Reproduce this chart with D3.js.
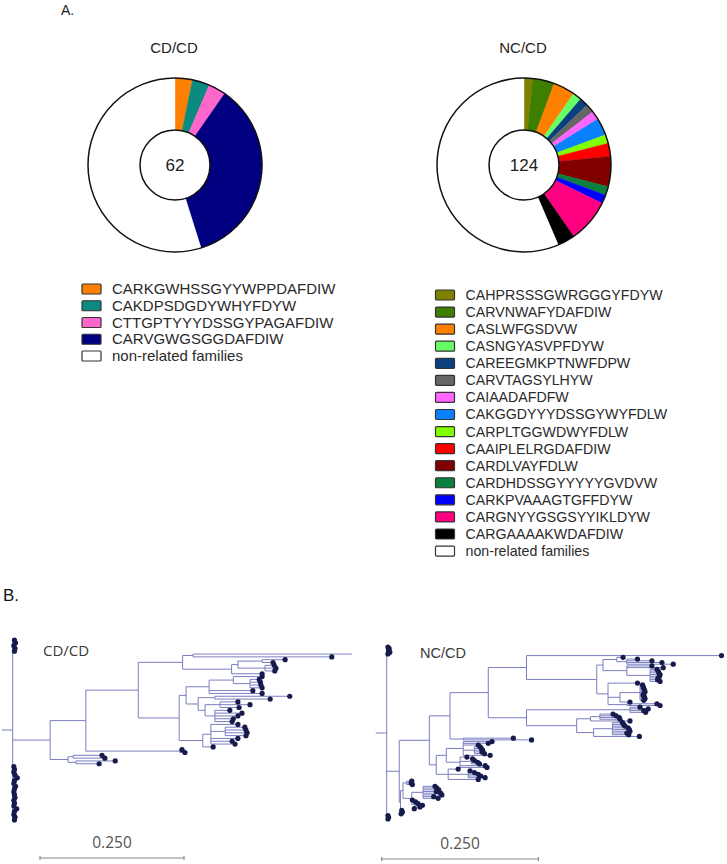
<!DOCTYPE html>
<html><head><meta charset="utf-8">
<script src="https://cdn.jsdelivr.net/npm/d3@7"></script>
<style>body{margin:0;background:#fff} svg{display:block}</style>
</head><body>
<svg id="c" width="727" height="864"></svg>
<script>
// ---------- Panel A data ----------
const cdLabels = ["CARKGWHSSGYYWPPDAFDIW","CAKDPSDGDYWHYFDYW","CTTGPTYYYDSSGYPAGAFDIW","CARVGWGSGGDAFDIW","non-related families"];
const cdValues = [2, 2, 2, 22, 34];
const cdColors = ["#ff7f00","#0b8a80","#ff66cc","#000080","#ffffff"];
const cdTotal = "62";

const ncLabels = ["CAHPRSSSGWRGGGYFDYW","CARVNWAFYDAFDIW","CASLWFGSDVW","CASNGYASVPFDYW","CAREEGMKPTNWFDPW","CARVTAGSYLHYW","CAIAADAFDFW","CAKGGDYYYDSSGYWYFDLW","CARPLTGGWDWYFDLW","CAAIPLELRGDAFDIW","CARDLVAYFDLW","CARDHDSSGYYYYYGVDVW","CARKPVAAAGTGFFDYW","CARGNYYGSGSYYIKLDYW","CARGAAAAKWDAFDIW","non-related families"];
const ncValues = [2, 5, 5, 2, 2, 2, 2, 4, 2, 3, 7, 2, 2, 10, 4, 70];
const ncColors = ["#808000","#3f7f00","#ff8000","#66ff66","#0a3f80","#666666","#ff66ff","#0a80ff","#80ff00","#ff0000","#800000","#0a7f40","#0000ff","#ff0080","#000000","#ffffff"];
const ncTotal = "124";

// ---------- Panel B data (node = [distance from root, children], leaf = distance) ----------
const treeCD = [0, [
  0.003, 0.005, 0.002, 0.004, 0.003,
  [0.065, [
    [0.127, [
      [0.218, [
        [0.295, [
          [0.313, [0.596, 0.554]],
          [0.380, [
            [0.391, [
              [0.433, [0.473, 0.452]],
              [0.438, [0.454, 0.457, 0.455]]
            ]],
            0.433
          ]]
        ]],
        [0.289, [
          [0.301, [
            [0.341, [
              [0.383, [0.433, [0.412, [0.428, 0.430, 0.431, 0.433]]]],
              0.417,
              0.433
            ]],
            [0.322, [
              [0.351, [0.481, 0.447]],
              [0.334, [
                [0.360, [0.391, 0.412, 0.393]],
                [0.351, [0.377, 0.398, 0.391, 0.383, 0.381]]
              ]]
            ]]
          ]],
          [0.330, [
            [0.344, [0.391, [0.369, [0.403, 0.405, 0.407, 0.405]], 0.391, 0.381, 0.386]],
            0.348
          ]]
        ]]
      ]],
      [0.290, [0.294, 0.299]]
    ]],
    [0.096, [
      [0.105, [0.155, 0.160]],
      [0.110, [0.178, 0.150]]
    ]]
  ]],
  0.002, 0.003, 0.002, 0.004, 0.008, 0.003, 0.002, 0.005, 0.003, 0.002,
  0.003, 0.004, 0.002, 0.003, 0.002, 0.007, 0.003, 0.002, 0.004, 0.003
]];

const treeNC = [0, [
  0.002, 0.004, 0.003, 0.005, 0.002,
  [0.020, [
    [0.068, [
      [0.101, [
        [0.162, [
          [0.223, [
            0.534,
            [0.335, [
              [0.345, [
                [0.367, [0.377, [0.383, [0.400, 0.423, 0.439, 0.457]]]],
                [0.383, [0.423, 0.441, [0.420, [0.431, 0.433, 0.434, 0.436, 0.435, 0.433, 0.432, 0.436]]]]
              ]],
              [0.353, [
                0.400,
                [0.372, [[0.404, [0.408, 0.409, 0.410, 0.411, 0.412, 0.410, 0.409, 0.411, 0.412, 0.410]], 0.388]],
                [0.383, [0.431, 0.436]]
              ]]
            ]]
          ]],
          [0.223, [
            [0.388, [0.404, 0.417, 0.410, 0.413]],
            [0.303, [
              [0.325, [[0.340, [0.361, 0.366, 0.371, 0.372]], 0.388]],
              [0.330, [[0.360, [0.376, 0.378, 0.380, 0.385, 0.387, 0.388, 0.383, 0.386]], 0.403]]
            ]]
          ]]
        ]],
        [0.122, [0.202, 0.231]]
      ]],
      [0.079, [
        [0.095, [
          [0.122, [0.168, 0.162, 0.146, [0.140, [0.149, 0.151, 0.153, 0.152, 0.156]], 0.165]],
          [0.117, [0.128, [0.135, [0.137, 0.140, 0.145, 0.148]], 0.157, 0.160]]
        ]],
        [0.098, [0.114, [0.130, [0.133, 0.140, 0.146, 0.150, 0.157]], 0.146]]
      ]]
    ]],
    [0.022, [
      [0.026, [
        [0.032, [0.040, 0.039, 0.041]],
        [0.040, [
          [0.058, [0.077, 0.080, 0.083, 0.079, 0.086, 0.088, 0.075, 0.082]],
          [0.045, [0.041, 0.046, 0.050, 0.057, 0.053, 0.044]]
        ]]
      ]],
      0.024, 0.025, 0.023
    ]]
  ]],
  0.002, 0.003, 0.002
]];
const scaleBarValue = 0.25;
const scaleBarLabel = "0.250";

// ---------- drawing ----------
const svg = d3.select("#c");
const SANS = "'Liberation Sans', Arial, sans-serif";
const OPEN = "'Open Sans', sans-serif";

svg.append("text").attr("x", 61).attr("y", 15).attr("font-family", SANS).attr("font-size", 14).attr("fill", "#222").text("A.");
svg.append("text").attr("x", 3).attr("y", 601).attr("font-family", SANS).attr("font-size", 17).attr("fill", "#111").text("B.");

function drawPie(cx, cy, values, colors, total, title) {
  svg.append("text").attr("x", cx - 1).attr("y", 52.5).attr("text-anchor", "middle")
    .attr("font-family", SANS).attr("font-size", 15).attr("fill", "#222").text(title);
  const g = svg.append("g").attr("transform", `translate(${cx},${cy})`);
  const pie = d3.pie().sort(null).value(d => d);
  const arc = d3.arc().innerRadius(35).outerRadius(87);
  g.selectAll("path").data(pie(values)).join("path")
    .attr("d", arc).attr("fill", (d, i) => colors[i])
    .attr("stroke", (d, i) => colors[i]).attr("stroke-width", 0.4);
  g.append("circle").attr("r", 87).attr("fill", "none").attr("stroke", "#111").attr("stroke-width", 1.5);
  g.append("circle").attr("r", 35).attr("fill", "#fff").attr("stroke", "#111").attr("stroke-width", 1.5);
  g.append("text").attr("y", 6).attr("text-anchor", "middle").attr("font-family", SANS)
    .attr("font-size", 17).attr("fill", "#222").text(total);
}
drawPie(175, 165, cdValues, cdColors, cdTotal, "CD/CD");
drawPie(524, 165, ncValues, ncColors, ncTotal, "NC/CD");

function drawLegend(x, y0, step, labels, colors, fs) {
  const g = svg.append("g");
  const rows = g.selectAll("g").data(labels).join("g")
    .attr("transform", (d, i) => `translate(${x},${y0 + i * step})`);
  rows.append("rect").attr("x", 0).attr("y", -5).attr("width", 19).attr("height", 10).attr("rx", 1)
    .attr("fill", (d, i) => colors[i]).attr("stroke", "#333").attr("stroke-width", 1.2);
  rows.append("text").attr("x", 30).attr("y", 5).attr("font-family", SANS).attr("font-size", fs)
    .attr("fill", "#2a2a2a").text(d => d);
}
drawLegend(82, 289, 16.75, cdLabels, cdColors, 15);
drawLegend(435.5, 295, 17.07, ncLabels, ncColors, 14.2);

const LINE = "#7a7ec0", DOT = "#161b4c";
function drawTree(data, o) {
  const root = d3.hierarchy(data, d => Array.isArray(d) ? d[1] : null);
  root.each(n => n.dist = Array.isArray(n.data) ? n.data[0] : n.data);
  const leaves = root.leaves();
  const yS = d3.scaleLinear().domain([0, leaves.length - 1]).range([o.top, o.bottom]);
  leaves.forEach((l, i) => l.py = yS(i));
  root.eachAfter(n => { if (n.children) n.py = (n.children[0].py + n.children[n.children.length - 1].py) / 2; });
  const xS = d3.scaleLinear().domain([0, 1]).range([o.rootX, o.rootX + o.pxPerUnit]);
  const clipId = "clip" + o.id;
  svg.append("clipPath").attr("id", clipId).append("rect")
    .attr("x", 0).attr("y", 600).attr("width", o.clipRight).attr("height", 240);
  const g = svg.append("g").attr("clip-path", `url(#${clipId})`);
  const lines = [];
  root.descendants().forEach(n => {
    if (n.parent) lines.push([xS(n.parent.dist), n.py, xS(n.dist), n.py]);
    if (n.children) lines.push([xS(n.dist), n.children[0].py, xS(n.dist), n.children[n.children.length - 1].py]);
  });
  lines.push([xS(0) - o.stub, root.py, xS(0), root.py]);
  g.selectAll("line").data(lines).join("line")
    .attr("x1", d => d[0]).attr("y1", d => d[1]).attr("x2", d => d[2]).attr("y2", d => d[3])
    .attr("stroke", LINE).attr("stroke-width", 1);
  g.selectAll("circle").data(leaves).join("circle")
    .attr("cx", d => xS(d.dist)).attr("cy", d => d.py).attr("r", 2.6).attr("fill", DOT);
  svg.append("text").attr("x", o.labelX).attr("y", o.labelY).attr("font-family", o.labelFont)
    .attr("font-size", o.labelSize).attr("fill", "#3a3a3a").text(o.label);
  const bS = d3.scaleLinear().domain([0, scaleBarValue]).range([o.barX, o.barX + scaleBarValue * o.pxPerUnit]);
  const bar = svg.append("g").attr("stroke", "#8a8a8a").attr("stroke-width", 1.2);
  bar.append("line").attr("x1", bS(0)).attr("x2", bS(scaleBarValue)).attr("y1", o.barY).attr("y2", o.barY);
  [0, scaleBarValue].forEach(v => bar.append("line").attr("x1", bS(v)).attr("x2", bS(v)).attr("y1", o.barY - 2).attr("y2", o.barY + 2));
  svg.append("text").attr("x", (bS(0) + bS(scaleBarValue)) / 2).attr("y", o.barY - 10).attr("text-anchor", "middle")
    .attr("font-family", OPEN).attr("font-size", 15.5).attr("fill", "#555").text(scaleBarLabel);
}
drawTree(treeCD, {id: "cd", rootX: 12.7, top: 640, bottom: 820, pxPerUnit: 576, clipRight: 352, stub: 11,
  label: "CD/CD", labelX: 43, labelY: 656, labelFont: OPEN, labelSize: 15,
  barX: 40, barY: 858});
drawTree(treeNC, {id: "nc", rootX: 386.7, top: 647, bottom: 819, pxPerUnit: 627, clipRight: 727, stub: 11,
  label: "NC/CD", labelX: 420, labelY: 658, labelFont: SANS, labelSize: 14.5,
  barX: 381.7, barY: 859});
</script>
</body></html>
